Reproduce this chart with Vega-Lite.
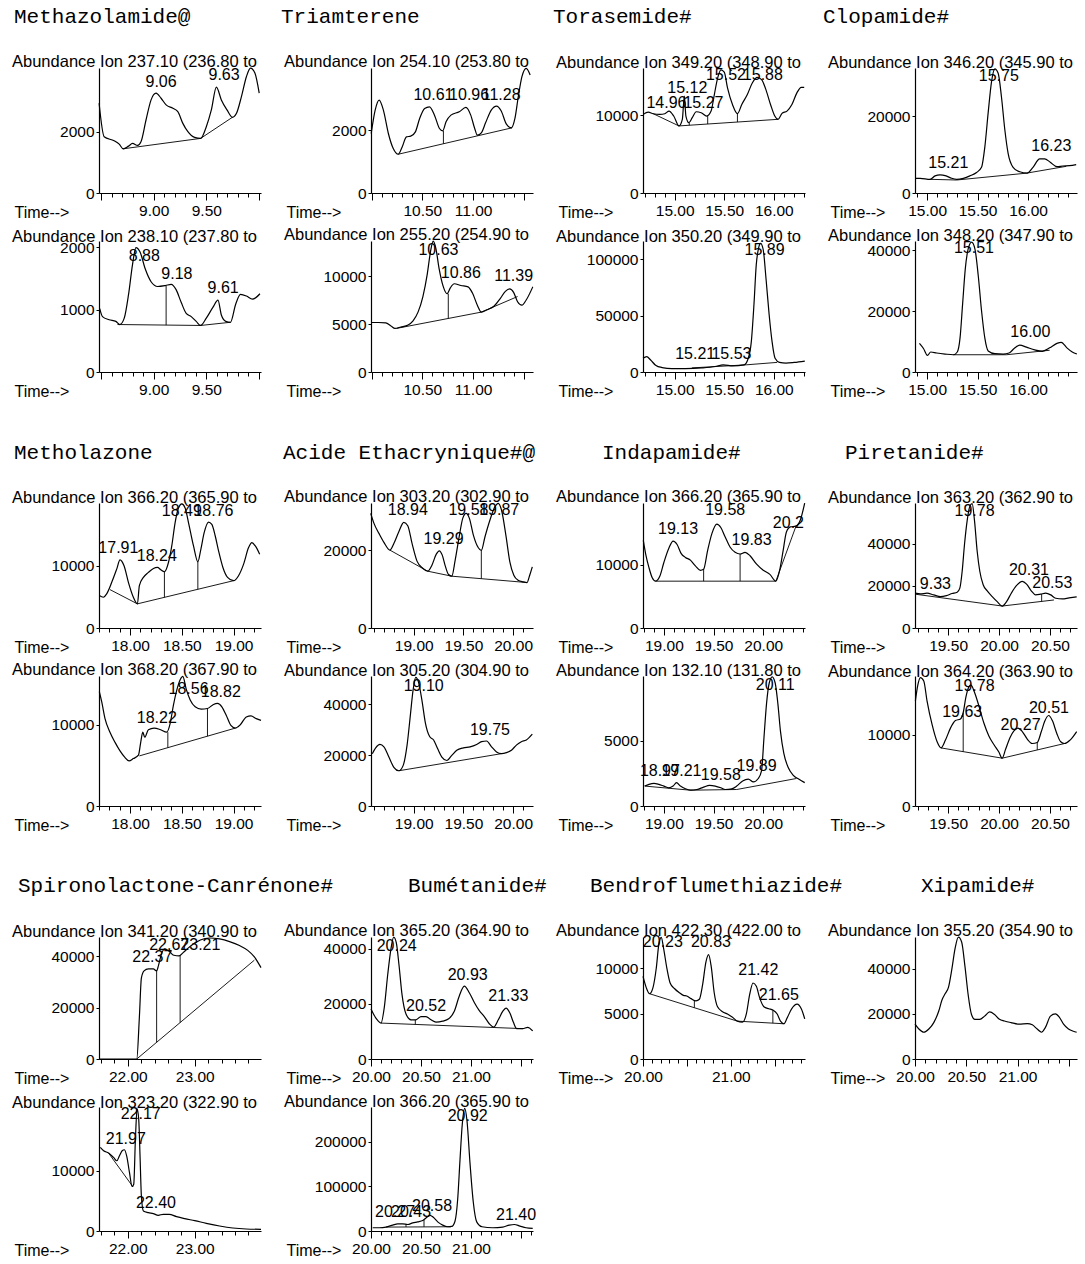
{
"$schema": "https://vega.github.io/schema/vega-lite/v6.json",
"padding": {"left": 12, "top": 0, "right": 4, "bottom": 4},
"background": "white",
"config": {
  "view": {"stroke": null},
  "font": "Liberation Sans",
  "line": {"color": "black", "strokeWidth": 1.2},
  "text": {"font": "Liberation Sans", "fontSize": 16, "baseline": "bottom", "align": "center", "color": "black"},
  "axis": {"grid": false, "domainColor": "black", "tickColor": "black", "labelColor": "black", "labelFont": "Liberation Sans", "labelFontSize": 15.5, "titleFont": "Liberation Sans", "titleFontSize": 16, "titleFontWeight": "normal", "titleColor": "black", "domainWidth": 1.2, "tickWidth": 1},
  "axisX": {"labelFlush": false, "labelOverlap": false, "labelPadding": 3, "titleX": -85, "titleY": 24, "titleAlign": "left", "titleBaseline": "alphabetic", "titleAnchor": "start"},
  "axisY": {"tickSize": 3, "labelPadding": 2, "labelOverlap": false},
  "title": {"anchor": "start", "frame": "group", "font": "Liberation Sans", "fontSize": 16.5, "fontWeight": "normal", "color": "black", "dx": -87, "offset": -5, "baseline": "alphabetic"}
},
"datasets": {
"p1t": [{"t":8.481,"a":2929},{"t":8.529,"a":1836},{"t":8.624,"a":1705},{"t":8.672,"a":1596},{"t":8.71,"a":1443},{"t":8.761,"a":1530},{"t":8.799,"a":1618},{"t":8.847,"a":1552},{"t":8.879,"a":1672},{"t":8.927,"a":2383},{"t":8.975,"a":3039},{"t":9.022,"a":3257},{"t":9.07,"a":3093},{"t":9.118,"a":2875},{"t":9.182,"a":2765},{"t":9.229,"a":2656},{"t":9.277,"a":2273},{"t":9.325,"a":2000},{"t":9.389,"a":1814},{"t":9.446,"a":1782},{"t":9.5,"a":2164},{"t":9.548,"a":2711},{"t":9.596,"a":3454},{"t":9.643,"a":3039},{"t":9.697,"a":2711},{"t":9.748,"a":2470},{"t":9.787,"a":2601},{"t":9.834,"a":3148},{"t":9.882,"a":3804},{"t":9.92,"a":4077},{"t":9.962,"a":3913},{"t":10.003,"a":3257}],
"p1b": [{"s":1,"t":8.71,"a":1443},{"s":1,"t":9.446,"a":1782},{"s":2,"t":9.446,"a":1782},{"s":2,"t":9.748,"a":2470}],
"p1l": [{"t":9.07,"a":3370,"lab":"9.06"},{"t":9.669,"a":3585,"lab":"9.63"}],
"p2t": [{"t":8.487,"a":1015},{"t":8.513,"a":888},{"t":8.576,"a":838},{"t":8.64,"a":812},{"t":8.678,"a":761},{"t":8.72,"a":863},{"t":8.761,"a":1244},{"t":8.799,"a":1726},{"t":8.831,"a":1995},{"t":8.869,"a":1929},{"t":8.92,"a":1650},{"t":8.975,"a":1447},{"t":9.038,"a":1371},{"t":9.111,"a":1386},{"t":9.166,"a":1406},{"t":9.213,"a":1320},{"t":9.261,"a":1117},{"t":9.309,"a":939},{"t":9.357,"a":888},{"t":9.404,"a":812},{"t":9.446,"a":746},{"t":9.5,"a":863},{"t":9.564,"a":1041},{"t":9.611,"a":1152},{"t":9.643,"a":914},{"t":9.685,"a":812},{"t":9.729,"a":797},{"t":9.78,"a":1091},{"t":9.825,"a":1244},{"t":9.882,"a":1218},{"t":9.939,"a":1167},{"t":10.01,"a":1254}],
"p2b": [{"s":1,"t":8.656,"a":761},{"s":1,"t":9.446,"a":746},{"s":2,"t":9.118,"a":1386},{"s":2,"t":9.118,"a":752},{"s":3,"t":9.446,"a":746},{"s":3,"t":9.729,"a":797}],
"p2l": [{"t":8.911,"a":1726,"lab":"8.88"},{"t":9.22,"a":1447,"lab":"9.18"},{"t":9.66,"a":1218,"lab":"9.61"}],
"p3t": [{"t":9.997,"a":1894},{"t":10.036,"a":2639},{"t":10.075,"a":2958},{"t":10.117,"a":2639},{"t":10.166,"a":1894},{"t":10.214,"a":1415},{"t":10.263,"a":1234},{"t":10.302,"a":1468},{"t":10.344,"a":1788},{"t":10.386,"a":1809},{"t":10.432,"a":1947},{"t":10.474,"a":2373},{"t":10.523,"a":2692},{"t":10.571,"a":2745},{"t":10.62,"a":2479},{"t":10.669,"a":2054},{"t":10.701,"a":1979},{"t":10.734,"a":2266},{"t":10.782,"a":2479},{"t":10.864,"a":2586},{"t":10.929,"a":2724},{"t":10.977,"a":2479},{"t":11.016,"a":2054},{"t":11.042,"a":1841},{"t":11.081,"a":1915},{"t":11.123,"a":2234},{"t":11.179,"a":2639},{"t":11.231,"a":2766},{"t":11.276,"a":2617},{"t":11.328,"a":2192},{"t":11.377,"a":2075},{"t":11.412,"a":2373},{"t":11.445,"a":3064},{"t":11.481,"a":3703},{"t":11.523,"a":3969},{"t":11.562,"a":3756}],
"p3b": [{"s":1,"t":10.263,"a":1234},{"s":1,"t":11.383,"a":2075},{"s":2,"t":10.708,"a":1979},{"s":2,"t":10.708,"a":1568}],
"p3l": [{"t":10.61,"a":2873,"lab":"10.61"},{"t":10.961,"a":2873,"lab":"10.96"},{"t":11.276,"a":2873,"lab":"11.28"}],
"p4t": [{"t":9.997,"a":5177},{"t":10.068,"a":5177},{"t":10.14,"a":5140},{"t":10.192,"a":4815},{"t":10.231,"a":4561},{"t":10.289,"a":4706},{"t":10.36,"a":4923},{"t":10.409,"a":5358},{"t":10.458,"a":6263},{"t":10.506,"a":7892},{"t":10.549,"a":10245},{"t":10.581,"a":12598},{"t":10.607,"a":13684},{"t":10.633,"a":12960},{"t":10.666,"a":10788},{"t":10.705,"a":8978},{"t":10.744,"a":8181},{"t":10.776,"a":8797},{"t":10.815,"a":9231},{"t":10.88,"a":9050},{"t":10.951,"a":8905},{"t":10.994,"a":8254},{"t":11.042,"a":6987},{"t":11.081,"a":6263},{"t":11.14,"a":6516},{"t":11.205,"a":6878},{"t":11.269,"a":7711},{"t":11.318,"a":8435},{"t":11.36,"a":8688},{"t":11.399,"a":8326},{"t":11.438,"a":7349},{"t":11.481,"a":6987},{"t":11.523,"a":7530},{"t":11.588,"a":8905}],
"p4b": [{"s":1,"t":10.247,"a":4561},{"s":1,"t":11.081,"a":6263},{"s":2,"t":11.081,"a":6263},{"s":2,"t":11.438,"a":7892},{"s":3,"t":10.756,"a":8181},{"s":3,"t":10.756,"a":5600}],
"p4l": [{"t":10.659,"a":11874,"lab":"10.63"},{"t":10.88,"a":9521,"lab":"10.86"},{"t":11.399,"a":9159,"lab":"11.39"}],
"p5t": [{"t":14.683,"a":10127},{"t":14.733,"a":10425},{"t":14.783,"a":10212},{"t":14.85,"a":10127},{"t":14.9,"a":10212},{"t":14.943,"a":10552},{"t":14.99,"a":9914},{"t":15.043,"a":8638},{"t":15.077,"a":9489},{"t":15.097,"a":12467},{"t":15.113,"a":9914},{"t":15.143,"a":9063},{"t":15.177,"a":9701},{"t":15.217,"a":10467},{"t":15.267,"a":10340},{"t":15.323,"a":9914},{"t":15.367,"a":10552},{"t":15.4,"a":12680},{"t":15.433,"a":14807},{"t":15.467,"a":15871},{"t":15.5,"a":15573},{"t":15.533,"a":13531},{"t":15.583,"a":11403},{"t":15.633,"a":10212},{"t":15.677,"a":11403},{"t":15.733,"a":12680},{"t":15.783,"a":14169},{"t":15.833,"a":14893},{"t":15.877,"a":14594},{"t":15.917,"a":13446},{"t":15.967,"a":11403},{"t":16.01,"a":9914},{"t":16.043,"a":9489},{"t":16.083,"a":10255},{"t":16.133,"a":10552},{"t":16.183,"a":11403},{"t":16.233,"a":12893},{"t":16.277,"a":13616},{"t":16.307,"a":13616}],
"p5b": [{"s":1,"t":14.783,"a":10212},{"s":1,"t":15.043,"a":8638},{"s":2,"t":15.043,"a":8638},{"s":2,"t":16.043,"a":9489},{"s":3,"t":15.147,"a":9063},{"s":3,"t":15.147,"a":8726},{"s":4,"t":15.333,"a":9914},{"s":4,"t":15.333,"a":8885},{"s":5,"t":15.633,"a":10212},{"s":5,"t":15.633,"a":9140}],
"p5l": [{"t":14.917,"a":10552,"lab":"14.96"},{"t":15.127,"a":12467,"lab":"15.12"},{"t":15.29,"a":10552,"lab":"15.27"},{"t":15.517,"a":14169,"lab":"15.52"},{"t":15.89,"a":14169,"lab":"15.88"}],
"p6t": [{"t":14.68,"a":12120},{"t":14.717,"a":13635},{"t":14.757,"a":10605},{"t":14.807,"a":6060},{"t":14.873,"a":3939},{"t":14.973,"a":3030},{"t":15.107,"a":3030},{"t":15.273,"a":3636},{"t":15.407,"a":4848},{"t":15.49,"a":6363},{"t":15.59,"a":5454},{"t":15.7,"a":6363},{"t":15.74,"a":11514},{"t":15.773,"a":26664},{"t":15.8,"a":59994},{"t":15.823,"a":94839},{"t":15.847,"a":109989},{"t":15.867,"a":113928},{"t":15.893,"a":108474},{"t":15.923,"a":81204},{"t":15.953,"a":50904},{"t":15.983,"a":26664},{"t":16.013,"a":12120},{"t":16.057,"a":8484},{"t":16.123,"a":7878},{"t":16.207,"a":8484},{"t":16.313,"a":9696}],
"p6b": [{"s":1,"t":15.173,"a":3636},{"s":1,"t":15.723,"a":6363},{"s":2,"t":15.723,"a":6363},{"s":2,"t":16.033,"a":8484}],
"p6l": [{"t":15.207,"a":9090,"lab":"15.21"},{"t":15.573,"a":9090,"lab":"15.53"},{"t":15.907,"a":100899,"lab":"15.89"}],
"p7t": [{"t":14.882,"a":3823},{"t":14.931,"a":3823},{"t":15.03,"a":3556},{"t":15.079,"a":4445},{"t":15.128,"a":4712},{"t":15.188,"a":4445},{"t":15.243,"a":3823},{"t":15.293,"a":3556},{"t":15.359,"a":3823},{"t":15.424,"a":4445},{"t":15.49,"a":5334},{"t":15.539,"a":6668},{"t":15.572,"a":12002},{"t":15.605,"a":20892},{"t":15.638,"a":28893},{"t":15.671,"a":32271},{"t":15.704,"a":31115},{"t":15.737,"a":24892},{"t":15.77,"a":16447},{"t":15.803,"a":10224},{"t":15.852,"a":6668},{"t":15.918,"a":5512},{"t":15.99,"a":5156},{"t":16.049,"a":6668},{"t":16.115,"a":8890},{"t":16.164,"a":8890},{"t":16.22,"a":8001},{"t":16.286,"a":6846},{"t":16.345,"a":7023},{"t":16.411,"a":7112},{"t":16.477,"a":7379}],
"p7b": [{"s":1,"t":15.03,"a":3556},{"s":1,"t":15.293,"a":3378},{"s":2,"t":15.293,"a":3378},{"s":2,"t":15.984,"a":5156},{"s":3,"t":15.984,"a":5156},{"s":3,"t":16.378,"a":6934}],
"p7l": [{"t":15.21,"a":5778,"lab":"15.21"},{"t":15.71,"a":28448,"lab":"15.75"},{"t":16.23,"a":10224,"lab":"16.23"}],
"p8t": [{"t":14.924,"a":9404},{"t":14.964,"a":7704},{"t":15.003,"a":5438},{"t":15.036,"a":6571},{"t":15.095,"a":6232},{"t":15.178,"a":5892},{"t":15.26,"a":5665},{"t":15.299,"a":6571},{"t":15.326,"a":11103},{"t":15.352,"a":22433},{"t":15.378,"a":33763},{"t":15.408,"a":40561},{"t":15.441,"a":42601},{"t":15.474,"a":40335},{"t":15.507,"a":31497},{"t":15.539,"a":20167},{"t":15.572,"a":11103},{"t":15.605,"a":6911},{"t":15.671,"a":6005},{"t":15.753,"a":5892},{"t":15.812,"a":6232},{"t":15.862,"a":7704},{"t":15.918,"a":8837},{"t":15.984,"a":8158},{"t":16.066,"a":7251},{"t":16.141,"a":6798},{"t":16.214,"a":7931},{"t":16.286,"a":9404},{"t":16.329,"a":9744},{"t":16.385,"a":7931},{"t":16.438,"a":6571},{"t":16.484,"a":5892}],
"p8b": [{"s":1,"t":15.26,"a":5665},{"s":1,"t":15.786,"a":5665},{"s":2,"t":15.786,"a":5665},{"s":2,"t":16.214,"a":7138}],
"p8l": [{"t":15.464,"a":38069,"lab":"15.51"},{"t":16.023,"a":10537,"lab":"16.00"}],
"p9t": [{"t":17.703,"a":5214},{"t":17.742,"a":4948},{"t":17.774,"a":5480},{"t":17.823,"a":7342},{"t":17.871,"a":9470},{"t":17.903,"a":10959},{"t":17.942,"a":10002},{"t":17.984,"a":7342},{"t":18.032,"a":4948},{"t":18.071,"a":3884},{"t":18.09,"a":6810},{"t":18.129,"a":8140},{"t":18.177,"a":8938},{"t":18.226,"a":9576},{"t":18.265,"a":9736},{"t":18.297,"a":9363},{"t":18.332,"a":9044},{"t":18.371,"a":10534},{"t":18.403,"a":13194},{"t":18.435,"a":16918},{"t":18.468,"a":19312},{"t":18.5,"a":19950},{"t":18.532,"a":19312},{"t":18.565,"a":16918},{"t":18.613,"a":13194},{"t":18.655,"a":10640},{"t":18.684,"a":12662},{"t":18.716,"a":15322},{"t":18.758,"a":17024},{"t":18.79,"a":16652},{"t":18.823,"a":14790},{"t":18.855,"a":12396},{"t":18.897,"a":9736},{"t":18.942,"a":8140},{"t":19.0,"a":7608},{"t":19.048,"a":8406},{"t":19.097,"a":10268},{"t":19.145,"a":12928},{"t":19.177,"a":13726},{"t":19.21,"a":13194},{"t":19.252,"a":11864}],
"p9b": [{"s":1,"t":17.806,"a":6171},{"s":1,"t":18.071,"a":3884},{"s":2,"t":18.071,"a":3884},{"s":2,"t":19.0,"a":7608},{"s":3,"t":18.332,"a":9044},{"s":3,"t":18.332,"a":4930},{"s":4,"t":18.655,"a":10640},{"s":4,"t":18.655,"a":6225}],
"p9l": [{"t":17.887,"a":11598,"lab":"17.91"},{"t":18.258,"a":10268,"lab":"18.24"},{"t":18.5,"a":17450,"lab":"18.49"},{"t":18.806,"a":17450,"lab":"18.76"}],
"p10t": [{"t":17.703,"a":14084},{"t":17.726,"a":12834},{"t":17.758,"a":10751},{"t":17.806,"a":9084},{"t":17.855,"a":7834},{"t":17.903,"a":6792},{"t":17.952,"a":5959},{"t":17.99,"a":5542},{"t":18.032,"a":5834},{"t":18.081,"a":6251},{"t":18.103,"a":7834},{"t":18.123,"a":9084},{"t":18.142,"a":8459},{"t":18.177,"a":9376},{"t":18.232,"a":9584},{"t":18.29,"a":9418},{"t":18.355,"a":9084},{"t":18.387,"a":10126},{"t":18.419,"a":12418},{"t":18.452,"a":14293},{"t":18.484,"a":15543},{"t":18.51,"a":15960},{"t":18.542,"a":14418},{"t":18.581,"a":13043},{"t":18.629,"a":12209},{"t":18.687,"a":11918},{"t":18.748,"a":12001},{"t":18.806,"a":12501},{"t":18.845,"a":12626},{"t":18.887,"a":12209},{"t":18.929,"a":11168},{"t":18.974,"a":9918},{"t":19.016,"a":9584},{"t":19.065,"a":10001},{"t":19.123,"a":10959},{"t":19.168,"a":11084},{"t":19.219,"a":10751},{"t":19.265,"a":10543}],
"p10b": [{"s":1,"t":18.09,"a":6167},{"s":1,"t":19.016,"a":9584},{"s":2,"t":18.365,"a":9084},{"s":2,"t":18.365,"a":7182},{"s":3,"t":18.748,"a":12001},{"s":3,"t":18.748,"a":8595}],
"p10l": [{"t":18.258,"a":9834,"lab":"18.22"},{"t":18.565,"a":13460,"lab":"18.56"},{"t":18.877,"a":13043,"lab":"18.82"}],
"p11t": [{"t":18.567,"a":29443},{"t":18.6,"a":26868},{"t":18.65,"a":24293},{"t":18.7,"a":21975},{"t":18.76,"a":20001},{"t":18.8,"a":21718},{"t":18.85,"a":24722},{"t":18.9,"a":27125},{"t":18.94,"a":26267},{"t":18.983,"a":21718},{"t":19.033,"a":17168},{"t":19.093,"a":15280},{"t":19.14,"a":14593},{"t":19.183,"a":16138},{"t":19.227,"a":18971},{"t":19.257,"a":19829},{"t":19.287,"a":18713},{"t":19.317,"a":15966},{"t":19.35,"a":13734},{"t":19.383,"a":13305},{"t":19.417,"a":17426},{"t":19.46,"a":23864},{"t":19.493,"a":28156},{"t":19.527,"a":29443},{"t":19.56,"a":28156},{"t":19.6,"a":23864},{"t":19.65,"a":20602},{"t":19.68,"a":19915},{"t":19.717,"a":23434},{"t":19.767,"a":27726},{"t":19.817,"a":31160},{"t":19.85,"a":32018},{"t":19.883,"a":30302},{"t":19.927,"a":23864},{"t":19.967,"a":16996},{"t":20.007,"a":13563},{"t":20.05,"a":12275},{"t":20.1,"a":11846},{"t":20.14,"a":11674},{"t":20.167,"a":13563},{"t":20.193,"a":15709}],
"p11b": [{"s":1,"t":18.76,"a":20001},{"s":1,"t":19.14,"a":14593},{"s":2,"t":19.14,"a":14593},{"s":2,"t":19.383,"a":13305},{"s":3,"t":19.383,"a":13305},{"s":3,"t":20.14,"a":11674},{"s":4,"t":19.68,"a":19915},{"s":4,"t":19.68,"a":12665}],
"p11l": [{"t":18.94,"a":28155,"lab":"18.94"},{"t":19.3,"a":20859,"lab":"19.29"},{"t":19.55,"a":28155,"lab":"19.58"},{"t":19.86,"a":28155,"lab":"19.87"}],
"p12t": [{"t":18.583,"a":20533},{"t":18.617,"a":22814},{"t":18.66,"a":24156},{"t":18.7,"a":23217},{"t":18.75,"a":19191},{"t":18.8,"a":15165},{"t":18.85,"a":13823},{"t":18.893,"a":15836},{"t":18.933,"a":23888},{"t":18.967,"a":35966},{"t":18.993,"a":45360},{"t":19.02,"a":50459},{"t":19.05,"a":48312},{"t":19.083,"a":41334},{"t":19.117,"a":32611},{"t":19.16,"a":27243},{"t":19.2,"a":25901},{"t":19.24,"a":22546},{"t":19.283,"a":19191},{"t":19.333,"a":17849},{"t":19.383,"a":19862},{"t":19.433,"a":21875},{"t":19.5,"a":22814},{"t":19.567,"a":23217},{"t":19.633,"a":24156},{"t":19.683,"a":25230},{"t":19.733,"a":25498},{"t":19.783,"a":23217},{"t":19.833,"a":21204},{"t":19.883,"a":20533},{"t":19.933,"a":20935},{"t":19.983,"a":21875},{"t":20.033,"a":23888},{"t":20.083,"a":25230},{"t":20.133,"a":25901},{"t":20.193,"a":28183}],
"p12b": [{"s":1,"t":18.85,"a":13823},{"s":1,"t":19.883,"a":20533}],
"p12l": [{"t":19.1,"a":44018,"lab":"19.10"},{"t":19.767,"a":26840,"lab":"19.75"}],
"p13t": [{"t":18.793,"a":13870},{"t":18.817,"a":11720},{"t":18.85,"a":9569},{"t":18.883,"a":7956},{"t":18.917,"a":7419},{"t":18.96,"a":8225},{"t":19.0,"a":10376},{"t":19.05,"a":12634},{"t":19.093,"a":13763},{"t":19.133,"a":13225},{"t":19.173,"a":11827},{"t":19.217,"a":11182},{"t":19.267,"a":10752},{"t":19.317,"a":9838},{"t":19.367,"a":9139},{"t":19.4,"a":9300},{"t":19.44,"a":12257},{"t":19.483,"a":14945},{"t":19.533,"a":16451},{"t":19.573,"a":15913},{"t":19.617,"a":14408},{"t":19.667,"a":12795},{"t":19.717,"a":11988},{"t":19.767,"a":11720},{"t":19.817,"a":11988},{"t":19.867,"a":11451},{"t":19.933,"a":10107},{"t":20.0,"a":9139},{"t":20.067,"a":8494},{"t":20.127,"a":7419},{"t":20.167,"a":9300},{"t":20.2,"a":12257},{"t":20.233,"a":15214},{"t":20.273,"a":16020},{"t":20.327,"a":16128},{"t":20.373,"a":17096},{"t":20.417,"a":19785}],
"p13b": [{"s":1,"t":18.917,"a":7419},{"s":1,"t":20.127,"a":7419},{"s":2,"t":19.4,"a":9300},{"s":2,"t":19.4,"a":7419},{"s":3,"t":19.767,"a":11720},{"s":3,"t":19.767,"a":7419},{"s":4,"t":20.127,"a":7419},{"s":4,"t":20.333,"a":16289}],
"p13l": [{"t":19.143,"a":14408,"lab":"19.13"},{"t":19.617,"a":17364,"lab":"19.58"},{"t":19.883,"a":12634,"lab":"19.83"},{"t":20.253,"a":15322,"lab":"20.2"}],
"p14t": [{"t":18.807,"a":1525},{"t":18.85,"a":1657},{"t":18.9,"a":1736},{"t":18.95,"a":1657},{"t":19.0,"a":1525},{"t":19.05,"a":1394},{"t":19.093,"a":1525},{"t":19.127,"a":1788},{"t":19.167,"a":1525},{"t":19.217,"a":1315},{"t":19.267,"a":1210},{"t":19.333,"a":1262},{"t":19.4,"a":1447},{"t":19.46,"a":1578},{"t":19.517,"a":1525},{"t":19.573,"a":1394},{"t":19.617,"a":1262},{"t":19.683,"a":1315},{"t":19.733,"a":1525},{"t":19.793,"a":1920},{"t":19.85,"a":2051},{"t":19.9,"a":1841},{"t":19.95,"a":2104},{"t":19.983,"a":2709},{"t":20.007,"a":5207},{"t":20.033,"a":7837},{"t":20.06,"a":9415},{"t":20.09,"a":9889},{"t":20.12,"a":9415},{"t":20.147,"a":7837},{"t":20.173,"a":5733},{"t":20.207,"a":4024},{"t":20.25,"a":2972},{"t":20.3,"a":2367},{"t":20.36,"a":2051},{"t":20.417,"a":1788}],
"p14b": [{"s":1,"t":18.807,"a":1525},{"s":1,"t":19.267,"a":1210},{"s":2,"t":19.267,"a":1210},{"s":2,"t":19.733,"a":1262},{"s":3,"t":19.733,"a":1262},{"s":3,"t":20.333,"a":2104}],
"p14l": [{"t":18.96,"a":2104,"lab":"18.97"},{"t":19.177,"a":2104,"lab":"19.21"},{"t":19.573,"a":1788,"lab":"19.58"},{"t":19.933,"a":2446,"lab":"19.89"},{"t":20.12,"a":8626,"lab":"20.11"}],
"p15t": [{"t":19.179,"a":16480},{"t":19.228,"a":16160},{"t":19.293,"a":16480},{"t":19.359,"a":15680},{"t":19.425,"a":14880},{"t":19.484,"a":15360},{"t":19.539,"a":16320},{"t":19.589,"a":16960},{"t":19.615,"a":18880},{"t":19.638,"a":26880},{"t":19.661,"a":39680},{"t":19.687,"a":50880},{"t":19.713,"a":57600},{"t":19.736,"a":58880},{"t":19.759,"a":50880},{"t":19.785,"a":36480},{"t":19.811,"a":26880},{"t":19.844,"a":20480},{"t":19.884,"a":17600},{"t":19.933,"a":14880},{"t":19.982,"a":12480},{"t":20.031,"a":10400},{"t":20.074,"a":12480},{"t":20.12,"a":16480},{"t":20.172,"a":20160},{"t":20.228,"a":22080},{"t":20.27,"a":20800},{"t":20.316,"a":17600},{"t":20.359,"a":15680},{"t":20.408,"a":16000},{"t":20.457,"a":16480},{"t":20.507,"a":15680},{"t":20.556,"a":14080},{"t":20.621,"a":13760},{"t":20.687,"a":14240},{"t":20.762,"a":14720}],
"p15b": [{"s":1,"t":19.179,"a":16000},{"s":1,"t":20.031,"a":10400},{"s":2,"t":20.031,"a":10400},{"s":2,"t":20.539,"a":13280},{"s":3,"t":20.418,"a":16100},{"s":3,"t":20.418,"a":12594}],
"p15l": [{"t":19.375,"a":17280,"lab":"9.33"},{"t":19.759,"a":51680,"lab":"19.78"},{"t":20.293,"a":23680,"lab":"20.31"},{"t":20.523,"a":17600,"lab":"20.53"}],
"p16t": [{"t":19.179,"a":14809},{"t":19.202,"a":16972},{"t":19.228,"a":18078},{"t":19.261,"a":17597},{"t":19.293,"a":14809},{"t":19.343,"a":11443},{"t":19.392,"a":9039},{"t":19.431,"a":8174},{"t":19.474,"a":9279},{"t":19.523,"a":10962},{"t":19.572,"a":12020},{"t":19.621,"a":12261},{"t":19.648,"a":13126},{"t":19.674,"a":15290},{"t":19.703,"a":16732},{"t":19.726,"a":16972},{"t":19.759,"a":16011},{"t":19.802,"a":14087},{"t":19.851,"a":11683},{"t":19.9,"a":9856},{"t":19.949,"a":8654},{"t":19.998,"a":7597},{"t":20.031,"a":6731},{"t":20.064,"a":7981},{"t":20.107,"a":9616},{"t":20.146,"a":10578},{"t":20.185,"a":10962},{"t":20.228,"a":10482},{"t":20.277,"a":9424},{"t":20.326,"a":8799},{"t":20.375,"a":8943},{"t":20.415,"a":10482},{"t":20.448,"a":11924},{"t":20.487,"a":12741},{"t":20.523,"a":12020},{"t":20.566,"a":10241},{"t":20.605,"a":9039},{"t":20.644,"a":8799},{"t":20.697,"a":9279},{"t":20.762,"a":10482}],
"p16b": [{"s":1,"t":19.431,"a":8174},{"s":1,"t":20.031,"a":6731},{"s":2,"t":20.031,"a":6731},{"s":2,"t":20.644,"a":8799},{"s":3,"t":19.648,"a":13126},{"s":3,"t":19.648,"a":7652},{"s":4,"t":20.375,"a":8943},{"s":4,"t":20.375,"a":7892}],
"p16l": [{"t":19.638,"a":12164,"lab":"19.63"},{"t":19.759,"a":15770,"lab":"19.78"},{"t":20.211,"a":10241,"lab":"20.27"},{"t":20.49,"a":12645,"lab":"20.51"}],
"p17t": [{"t":21.574,"a":0},{"t":22.134,"a":0},{"t":22.173,"a":16256},{"t":22.203,"a":31496},{"t":22.243,"a":34290},{"t":22.307,"a":35052},{"t":22.381,"a":35052},{"t":22.431,"a":34290},{"t":22.46,"a":36576},{"t":22.505,"a":41021},{"t":22.554,"a":42926},{"t":22.619,"a":41910},{"t":22.688,"a":40386},{"t":22.767,"a":40132},{"t":22.827,"a":41402},{"t":22.901,"a":43180},{"t":22.985,"a":44831},{"t":23.084,"a":46355},{"t":23.223,"a":47117},{"t":23.371,"a":46736},{"t":23.52,"a":45720},{"t":23.668,"a":44196},{"t":23.792,"a":42291},{"t":23.891,"a":39751},{"t":23.99,"a":35560}],
"p17b": [{"s":1,"t":22.134,"a":0},{"s":1,"t":23.891,"a":38481},{"s":2,"t":22.431,"a":34290},{"s":2,"t":22.431,"a":6505},{"s":3,"t":22.782,"a":40132},{"s":3,"t":22.782,"a":14192}],
"p17l": [{"t":22.366,"a":36576,"lab":"22.37"},{"t":22.619,"a":41402,"lab":"22.67"},{"t":23.084,"a":41402,"lab":"23.21"}],
"p18t": [{"t":21.589,"a":13890},{"t":21.639,"a":13334},{"t":21.713,"a":12945},{"t":21.787,"a":12223},{"t":21.837,"a":11668},{"t":21.876,"a":12501},{"t":21.916,"a":13334},{"t":21.95,"a":13501},{"t":21.985,"a":12390},{"t":22.025,"a":9723},{"t":22.064,"a":7389},{"t":22.089,"a":7778},{"t":22.114,"a":15279},{"t":22.139,"a":20279},{"t":22.163,"a":18613},{"t":22.183,"a":12501},{"t":22.203,"a":5834},{"t":22.233,"a":3334},{"t":22.307,"a":3056},{"t":22.381,"a":2889},{"t":22.455,"a":2611},{"t":22.53,"a":2778},{"t":22.619,"a":2778},{"t":22.728,"a":2389},{"t":22.851,"a":2056},{"t":23.0,"a":1722},{"t":23.173,"a":1278},{"t":23.371,"a":833},{"t":23.569,"a":500},{"t":23.767,"a":333},{"t":23.99,"a":278}],
"p18b": [{"s":1,"t":21.713,"a":12945},{"s":1,"t":22.074,"a":7389}],
"p18l": [{"t":21.97,"a":13890,"lab":"21.97"},{"t":22.193,"a":18057,"lab":"22.17"},{"t":22.42,"a":3334,"lab":"22.40"}],
"p19t": [{"t":20.0,"a":18100},{"t":20.033,"a":15734},{"t":20.067,"a":13959},{"t":20.1,"a":13013},{"t":20.133,"a":18691},{"t":20.167,"a":30521},{"t":20.2,"a":39985},{"t":20.227,"a":44126},{"t":20.253,"a":42115},{"t":20.28,"a":34070},{"t":20.31,"a":23423},{"t":20.35,"a":16325},{"t":20.4,"a":14196},{"t":20.45,"a":14196},{"t":20.5,"a":15379},{"t":20.55,"a":15379},{"t":20.6,"a":14196},{"t":20.65,"a":13368},{"t":20.717,"a":13723},{"t":20.777,"a":14551},{"t":20.833,"a":17272},{"t":20.883,"a":22832},{"t":20.933,"a":26381},{"t":20.983,"a":24015},{"t":21.033,"a":20466},{"t":21.083,"a":17508},{"t":21.133,"a":15379},{"t":21.183,"a":12776},{"t":21.227,"a":11593},{"t":21.273,"a":14196},{"t":21.317,"a":17272},{"t":21.35,"a":18455},{"t":21.39,"a":16562},{"t":21.423,"a":13368},{"t":21.457,"a":11002},{"t":21.517,"a":11002},{"t":21.567,"a":11475},{"t":21.617,"a":10174}],
"p19b": [{"s":1,"t":20.1,"a":13013},{"s":1,"t":21.517,"a":11002},{"s":2,"t":20.443,"a":14196},{"s":2,"t":20.443,"a":12526}],
"p19l": [{"t":20.257,"a":38211,"lab":"20.24"},{"t":20.55,"a":16325,"lab":"20.52"},{"t":20.967,"a":27564,"lab":"20.93"},{"t":21.373,"a":19874,"lab":"21.33"}],
"p20t": [{"t":20.017,"a":7326},{"t":20.083,"a":7326},{"t":20.15,"a":8791},{"t":20.217,"a":13187},{"t":20.267,"a":16117},{"t":20.317,"a":16117},{"t":20.367,"a":14652},{"t":20.417,"a":18315},{"t":20.467,"a":20513},{"t":20.517,"a":23443},{"t":20.55,"a":29304},{"t":20.59,"a":35165},{"t":20.623,"a":30769},{"t":20.667,"a":20513},{"t":20.717,"a":13187},{"t":20.767,"a":9524},{"t":20.807,"a":10256},{"t":20.84,"a":21978},{"t":20.867,"a":71795},{"t":20.89,"a":159707},{"t":20.913,"a":240293},{"t":20.937,"a":275458},{"t":20.96,"a":247619},{"t":20.99,"a":152381},{"t":21.023,"a":64469},{"t":21.057,"a":20513},{"t":21.11,"a":9524},{"t":21.217,"a":7326},{"t":21.317,"a":8791},{"t":21.383,"a":13187},{"t":21.433,"a":14652},{"t":21.49,"a":10989},{"t":21.55,"a":7326},{"t":21.617,"a":5861}],
"p20b": [{"s":1,"t":20.15,"a":8791},{"s":1,"t":20.8,"a":9524},{"s":2,"t":20.35,"a":15000},{"s":2,"t":20.35,"a":9080},{"s":3,"t":20.53,"a":25000},{"s":3,"t":20.53,"a":9300}],
"p20l": [{"t":20.24,"a":24000,"lab":"20.27"},{"t":20.4,"a":24000,"lab":"20.43"},{"t":20.61,"a":38800,"lab":"20.58"},{"t":20.967,"a":240293,"lab":"20.92"},{"t":21.45,"a":16850,"lab":"21.40"}],
"p21t": [{"t":20.0,"a":9100},{"t":20.038,"a":7841},{"t":20.075,"a":7194},{"t":20.113,"a":7841},{"t":20.151,"a":10000},{"t":20.181,"a":12697},{"t":20.208,"a":13417},{"t":20.234,"a":12230},{"t":20.272,"a":10000},{"t":20.309,"a":8381},{"t":20.358,"a":7770},{"t":20.415,"a":7302},{"t":20.46,"a":7014},{"t":20.498,"a":6942},{"t":20.547,"a":6654},{"t":20.604,"a":6403},{"t":20.642,"a":6583},{"t":20.679,"a":8201},{"t":20.717,"a":10719},{"t":20.747,"a":11510},{"t":20.777,"a":10180},{"t":20.811,"a":7302},{"t":20.849,"a":5755},{"t":20.906,"a":5216},{"t":20.962,"a":4964},{"t":21.019,"a":4604},{"t":21.075,"a":4173},{"t":21.132,"a":4065},{"t":21.177,"a":4964},{"t":21.215,"a":7122},{"t":21.253,"a":8381},{"t":21.291,"a":8021},{"t":21.328,"a":6762},{"t":21.377,"a":5755},{"t":21.434,"a":5539},{"t":21.479,"a":5396},{"t":21.528,"a":4964},{"t":21.566,"a":4173},{"t":21.604,"a":3885},{"t":21.642,"a":4532},{"t":21.691,"a":5503},{"t":21.755,"a":6043},{"t":21.804,"a":5503},{"t":21.842,"a":4424}],
"p21b": [{"s":1,"t":20.075,"a":7194},{"s":1,"t":21.075,"a":4173},{"s":2,"t":21.075,"a":4173},{"s":2,"t":21.604,"a":3885},{"s":3,"t":20.585,"a":6450},{"s":3,"t":20.585,"a":5653},{"s":4,"t":21.479,"a":5396},{"s":4,"t":21.479,"a":3953}],
"p21l": [{"t":20.226,"a":11978,"lab":"20.23"},{"t":20.774,"a":11978,"lab":"20.83"},{"t":21.313,"a":8921,"lab":"21.42"},{"t":21.547,"a":6223,"lab":"21.65"}],
"p22t": [{"t":20.0,"a":15433},{"t":20.038,"a":13290},{"t":20.087,"a":11861},{"t":20.135,"a":13290},{"t":20.183,"a":16148},{"t":20.231,"a":21149},{"t":20.263,"a":26151},{"t":20.295,"a":29009},{"t":20.327,"a":31867},{"t":20.359,"a":39726},{"t":20.391,"a":49015},{"t":20.423,"a":54016},{"t":20.455,"a":51873},{"t":20.487,"a":41155},{"t":20.519,"a":28294},{"t":20.551,"a":19720},{"t":20.583,"a":17577},{"t":20.631,"a":17577},{"t":20.679,"a":19006},{"t":20.728,"a":20863},{"t":20.776,"a":19720},{"t":20.824,"a":17577},{"t":20.872,"a":16862},{"t":20.936,"a":16148},{"t":21.016,"a":15433},{"t":21.096,"a":15719},{"t":21.144,"a":15147},{"t":21.192,"a":13290},{"t":21.234,"a":11861},{"t":21.272,"a":14004},{"t":21.321,"a":19006},{"t":21.369,"a":20006},{"t":21.407,"a":18577},{"t":21.449,"a":15433},{"t":21.497,"a":13290},{"t":21.545,"a":12289},{"t":21.577,"a":11861}]
},
"bounds": "flush",
"columns": 4,
"spacing": {"row": 48, "column": 110},
"concat": [
 {"width": 162, "height": 20, "data": {"values": [{}]}, "mark": {"type": "text", "text": "", "fontSize": 1, "baseline": "top"}, "encoding": {}, "title": {"text": "Methazolamide@", "orient": "bottom", "font": "Liberation Mono", "fontSize": 21, "dx": -85, "offset": -14}},
 {"width": 162, "height": 20, "data": {"values": [{}]}, "mark": {"type": "text", "text": "", "fontSize": 1, "baseline": "top"}, "encoding": {}, "title": {"text": "Triamterene", "orient": "bottom", "font": "Liberation Mono", "fontSize": 21, "dx": -90, "offset": -14}},
 {"width": 162, "height": 20, "data": {"values": [{}]}, "mark": {"type": "text", "text": "", "fontSize": 1, "baseline": "top"}, "encoding": {}, "title": {"text": "Torasemide#", "orient": "bottom", "font": "Liberation Mono", "fontSize": 21, "dx": -90, "offset": -14}},
 {"width": 162, "height": 20, "data": {"values": [{}]}, "mark": {"type": "text", "text": "", "fontSize": 1, "baseline": "top"}, "encoding": {}, "title": {"text": "Clopamide#", "orient": "bottom", "font": "Liberation Mono", "fontSize": 21, "dx": -92, "offset": -14}},

 {"width": 162, "height": 125, "title": {"text": "Abundance Ion 237.10 (236.80 to"},
  "encoding": {"x": {"field": "t", "type": "quantitative", "scale": {"domain": [8.48, 10.02], "nice": false, "zero": false}, "axis": {"title": "Time-->", "values": [8.5,8.6,8.7,8.8,8.9,9,9.1,9.2,9.3,9.4,9.5,9.6,9.7,9.8,9.9,10], "labelExpr": "indexof([9,9.5],datum.value)>=0?format(datum.value,'.2f'):''", "tickSize": {"condition": {"test": "abs(datum.value*2-round(datum.value*2))<0.001", "value": 7}, "value": 4}}},
               "y": {"field": "a", "type": "quantitative", "scale": {"domain": [0, 4080], "nice": false}, "axis": {"values": [0, 2000], "title": null, "format": "d"}}},
  "layer": [{"data": {"name": "p1t"}, "mark": {"type": "line", "interpolate": "monotone"}},
            {"data": {"name": "p1b"}, "mark": {"type": "line", "strokeWidth": 0.9}, "encoding": {"detail": {"field": "s", "type": "nominal"}}},
            {"data": {"name": "p1l"}, "mark": {"type": "text"}, "encoding": {"text": {"field": "lab", "type": "nominal"}}}]},
 {"width": 162, "height": 125, "title": {"text": "Abundance Ion 254.10 (253.80 to"},
  "encoding": {"x": {"field": "t", "type": "quantitative", "scale": {"domain": [9.995, 11.59], "nice": false, "zero": false}, "axis": {"title": "Time-->", "values": [10,10.1,10.2,10.3,10.4,10.5,10.6,10.7,10.8,10.9,11,11.1,11.2,11.3,11.4,11.5], "labelExpr": "indexof([10.5,11],datum.value)>=0?format(datum.value,'.2f'):''", "tickSize": {"condition": {"test": "abs(datum.value*2-round(datum.value*2))<0.001", "value": 7}, "value": 4}}},
               "y": {"field": "a", "type": "quantitative", "scale": {"domain": [0, 3980], "nice": false}, "axis": {"values": [0, 2000], "title": null, "format": "d"}}},
  "layer": [{"data": {"name": "p3t"}, "mark": {"type": "line", "interpolate": "monotone"}},
            {"data": {"name": "p3b"}, "mark": {"type": "line", "strokeWidth": 0.9}, "encoding": {"detail": {"field": "s", "type": "nominal"}}},
            {"data": {"name": "p3l"}, "mark": {"type": "text"}, "encoding": {"text": {"field": "lab", "type": "nominal"}}}]},
 {"width": 162, "height": 125, "title": {"text": "Abundance Ion 349.20 (348.90 to"},
  "encoding": {"x": {"field": "t", "type": "quantitative", "scale": {"domain": [14.68, 16.315], "nice": false, "zero": false}, "axis": {"title": "Time-->", "values": [14.7,14.8,14.9,15,15.1,15.2,15.3,15.4,15.5,15.6,15.7,15.8,15.9,16,16.1,16.2,16.3], "labelExpr": "indexof([15,15.5,16],datum.value)>=0?format(datum.value,'.2f'):''", "tickSize": {"condition": {"test": "abs(datum.value*2-round(datum.value*2))<0.001", "value": 7}, "value": 4}}},
               "y": {"field": "a", "type": "quantitative", "scale": {"domain": [0, 16100], "nice": false}, "axis": {"values": [0, 10000], "title": null, "format": "d"}}},
  "layer": [{"data": {"name": "p5t"}, "mark": {"type": "line", "interpolate": "monotone"}},
            {"data": {"name": "p5b"}, "mark": {"type": "line", "strokeWidth": 0.9}, "encoding": {"detail": {"field": "s", "type": "nominal"}}},
            {"data": {"name": "p5l"}, "mark": {"type": "text"}, "encoding": {"text": {"field": "lab", "type": "nominal"}}}]},
 {"width": 162, "height": 125, "title": {"text": "Abundance Ion 346.20 (345.90 to"},
  "encoding": {"x": {"field": "t", "type": "quantitative", "scale": {"domain": [14.88, 16.485], "nice": false, "zero": false}, "axis": {"title": "Time-->", "values": [14.9,15,15.1,15.2,15.3,15.4,15.5,15.6,15.7,15.8,15.9,16,16.1,16.2,16.3,16.4], "labelExpr": "indexof([15,15.5,16],datum.value)>=0?format(datum.value,'.2f'):''", "tickSize": {"condition": {"test": "abs(datum.value*2-round(datum.value*2))<0.001", "value": 7}, "value": 4}}},
               "y": {"field": "a", "type": "quantitative", "scale": {"domain": [0, 32500], "nice": false}, "axis": {"values": [0, 20000], "title": null, "format": "d"}}},
  "layer": [{"data": {"name": "p7t"}, "mark": {"type": "line", "interpolate": "monotone"}},
            {"data": {"name": "p7b"}, "mark": {"type": "line", "strokeWidth": 0.9}, "encoding": {"detail": {"field": "s", "type": "nominal"}}},
            {"data": {"name": "p7l"}, "mark": {"type": "text"}, "encoding": {"text": {"field": "lab", "type": "nominal"}}}]},

 {"width": 162, "height": 131, "title": {"text": "Abundance Ion 238.10 (237.80 to"},
  "encoding": {"x": {"field": "t", "type": "quantitative", "scale": {"domain": [8.48, 10.02], "nice": false, "zero": false}, "axis": {"title": "Time-->", "values": [8.5,8.6,8.7,8.8,8.9,9,9.1,9.2,9.3,9.4,9.5,9.6,9.7,9.8,9.9,10], "labelExpr": "indexof([9,9.5],datum.value)>=0?format(datum.value,'.2f'):''", "tickSize": {"condition": {"test": "abs(datum.value*2-round(datum.value*2))<0.001", "value": 7}, "value": 4}}},
               "y": {"field": "a", "type": "quantitative", "scale": {"domain": [0, 2100], "nice": false}, "axis": {"values": [0, 1000, 2000], "title": null, "format": "d"}}},
  "layer": [{"data": {"name": "p2t"}, "mark": {"type": "line", "interpolate": "monotone"}},
            {"data": {"name": "p2b"}, "mark": {"type": "line", "strokeWidth": 0.9}, "encoding": {"detail": {"field": "s", "type": "nominal"}}},
            {"data": {"name": "p2l"}, "mark": {"type": "text"}, "encoding": {"text": {"field": "lab", "type": "nominal"}}}]},
 {"width": 162, "height": 131, "title": {"text": "Abundance Ion 255.20 (254.90 to"},
  "encoding": {"x": {"field": "t", "type": "quantitative", "scale": {"domain": [9.995, 11.59], "nice": false, "zero": false}, "axis": {"title": "Time-->", "values": [10,10.1,10.2,10.3,10.4,10.5,10.6,10.7,10.8,10.9,11,11.1,11.2,11.3,11.4,11.5], "labelExpr": "indexof([10.5,11],datum.value)>=0?format(datum.value,'.2f'):''", "tickSize": {"condition": {"test": "abs(datum.value*2-round(datum.value*2))<0.001", "value": 7}, "value": 4}}},
               "y": {"field": "a", "type": "quantitative", "scale": {"domain": [0, 13700], "nice": false}, "axis": {"values": [0, 5000, 10000], "title": null, "format": "d"}}},
  "layer": [{"data": {"name": "p4t"}, "mark": {"type": "line", "interpolate": "monotone"}},
            {"data": {"name": "p4b"}, "mark": {"type": "line", "strokeWidth": 0.9}, "encoding": {"detail": {"field": "s", "type": "nominal"}}},
            {"data": {"name": "p4l"}, "mark": {"type": "text"}, "encoding": {"text": {"field": "lab", "type": "nominal"}}}]},
 {"width": 162, "height": 131, "title": {"text": "Abundance Ion 350.20 (349.90 to"},
  "encoding": {"x": {"field": "t", "type": "quantitative", "scale": {"domain": [14.68, 16.315], "nice": false, "zero": false}, "axis": {"title": "Time-->", "values": [14.7,14.8,14.9,15,15.1,15.2,15.3,15.4,15.5,15.6,15.7,15.8,15.9,16,16.1,16.2,16.3], "labelExpr": "indexof([15,15.5,16],datum.value)>=0?format(datum.value,'.2f'):''", "tickSize": {"condition": {"test": "abs(datum.value*2-round(datum.value*2))<0.001", "value": 7}, "value": 4}}},
               "y": {"field": "a", "type": "quantitative", "scale": {"domain": [0, 116000], "nice": false}, "axis": {"values": [0, 50000, 100000], "title": null, "format": "d"}}},
  "layer": [{"data": {"name": "p6t"}, "mark": {"type": "line", "interpolate": "monotone"}},
            {"data": {"name": "p6b"}, "mark": {"type": "line", "strokeWidth": 0.9}, "encoding": {"detail": {"field": "s", "type": "nominal"}}},
            {"data": {"name": "p6l"}, "mark": {"type": "text"}, "encoding": {"text": {"field": "lab", "type": "nominal"}}}]},
 {"width": 162, "height": 131, "title": {"text": "Abundance Ion 348.20 (347.90 to"},
  "encoding": {"x": {"field": "t", "type": "quantitative", "scale": {"domain": [14.88, 16.485], "nice": false, "zero": false}, "axis": {"title": "Time-->", "values": [14.9,15,15.1,15.2,15.3,15.4,15.5,15.6,15.7,15.8,15.9,16,16.1,16.2,16.3,16.4], "labelExpr": "indexof([15,15.5,16],datum.value)>=0?format(datum.value,'.2f'):''", "tickSize": {"condition": {"test": "abs(datum.value*2-round(datum.value*2))<0.001", "value": 7}, "value": 4}}},
               "y": {"field": "a", "type": "quantitative", "scale": {"domain": [0, 43000], "nice": false}, "axis": {"values": [0, 20000, 40000], "title": null, "format": "d"}}},
  "layer": [{"data": {"name": "p8t"}, "mark": {"type": "line", "interpolate": "monotone"}},
            {"data": {"name": "p8b"}, "mark": {"type": "line", "strokeWidth": 0.9}, "encoding": {"detail": {"field": "s", "type": "nominal"}}},
            {"data": {"name": "p8l"}, "mark": {"type": "text"}, "encoding": {"text": {"field": "lab", "type": "nominal"}}}]},

 {"width": 162, "height": 35, "data": {"values": [{}]}, "mark": {"type": "text", "text": "", "fontSize": 1, "baseline": "top"}, "encoding": {}, "title": {"text": "Metholazone", "orient": "bottom", "font": "Liberation Mono", "fontSize": 21, "dx": -85, "offset": -13}},
 {"width": 162, "height": 35, "data": {"values": [{}]}, "mark": {"type": "text", "text": "", "fontSize": 1, "baseline": "top"}, "encoding": {}, "title": {"text": "Acide Ethacrynique#@", "orient": "bottom", "font": "Liberation Mono", "fontSize": 21, "dx": -88, "offset": -13}},
 {"width": 162, "height": 35, "data": {"values": [{}]}, "mark": {"type": "text", "text": "", "fontSize": 1, "baseline": "top"}, "encoding": {}, "title": {"text": "Indapamide#", "orient": "bottom", "font": "Liberation Mono", "fontSize": 21, "dx": -41, "offset": -13}},
 {"width": 162, "height": 35, "data": {"values": [{}]}, "mark": {"type": "text", "text": "", "fontSize": 1, "baseline": "top"}, "encoding": {}, "title": {"text": "Piretanide#", "orient": "bottom", "font": "Liberation Mono", "fontSize": 21, "dx": -70, "offset": -13}},

 {"width": 162, "height": 125, "title": {"text": "Abundance Ion 366.20 (365.90 to"},
  "encoding": {"x": {"field": "t", "type": "quantitative", "scale": {"domain": [17.7, 19.265], "nice": false, "zero": false}, "axis": {"title": "Time-->", "values": [17.7,17.8,17.9,18,18.1,18.2,18.3,18.4,18.5,18.6,18.7,18.8,18.9,19,19.1,19.2], "labelExpr": "indexof([18,18.5,19],datum.value)>=0?format(datum.value,'.2f'):''", "tickSize": {"condition": {"test": "abs(datum.value*2-round(datum.value*2))<0.001", "value": 7}, "value": 4}}},
               "y": {"field": "a", "type": "quantitative", "scale": {"domain": [0, 20100], "nice": false}, "axis": {"values": [0, 10000], "title": null, "format": "d"}}},
  "layer": [{"data": {"name": "p9t"}, "mark": {"type": "line", "interpolate": "monotone"}},
            {"data": {"name": "p9b"}, "mark": {"type": "line", "strokeWidth": 0.9}, "encoding": {"detail": {"field": "s", "type": "nominal"}}},
            {"data": {"name": "p9l"}, "mark": {"type": "text"}, "encoding": {"text": {"field": "lab", "type": "nominal"}}}]},
 {"width": 162, "height": 125, "title": {"text": "Abundance Ion 303.20 (302.90 to"},
  "encoding": {"x": {"field": "t", "type": "quantitative", "scale": {"domain": [18.57, 20.2], "nice": false, "zero": false}, "axis": {"title": "Time-->", "values": [18.6,18.7,18.8,18.9,19,19.1,19.2,19.3,19.4,19.5,19.6,19.7,19.8,19.9,20,20.1], "labelExpr": "indexof([19,19.5,20],datum.value)>=0?format(datum.value,'.2f'):''", "tickSize": {"condition": {"test": "abs(datum.value*2-round(datum.value*2))<0.001", "value": 7}, "value": 4}}},
               "y": {"field": "a", "type": "quantitative", "scale": {"domain": [0, 32100], "nice": false}, "axis": {"values": [0, 20000], "title": null, "format": "d"}}},
  "layer": [{"data": {"name": "p11t"}, "mark": {"type": "line", "interpolate": "monotone"}},
            {"data": {"name": "p11b"}, "mark": {"type": "line", "strokeWidth": 0.9}, "encoding": {"detail": {"field": "s", "type": "nominal"}}},
            {"data": {"name": "p11l"}, "mark": {"type": "text"}, "encoding": {"text": {"field": "lab", "type": "nominal"}}}]},
 {"width": 162, "height": 125, "title": {"text": "Abundance Ion 366.20 (365.90 to"},
  "encoding": {"x": {"field": "t", "type": "quantitative", "scale": {"domain": [18.79, 20.42], "nice": false, "zero": false}, "axis": {"title": "Time-->", "values": [18.8,18.9,19,19.1,19.2,19.3,19.4,19.5,19.6,19.7,19.8,19.9,20,20.1,20.2,20.3,20.4], "labelExpr": "indexof([19,19.5,20],datum.value)>=0?format(datum.value,'.2f'):''", "tickSize": {"condition": {"test": "abs(datum.value*2-round(datum.value*2))<0.001", "value": 7}, "value": 4}}},
               "y": {"field": "a", "type": "quantitative", "scale": {"domain": [0, 19800], "nice": false}, "axis": {"values": [0, 10000], "title": null, "format": "d"}}},
  "layer": [{"data": {"name": "p13t"}, "mark": {"type": "line", "interpolate": "monotone"}},
            {"data": {"name": "p13b"}, "mark": {"type": "line", "strokeWidth": 0.9}, "encoding": {"detail": {"field": "s", "type": "nominal"}}},
            {"data": {"name": "p13l"}, "mark": {"type": "text"}, "encoding": {"text": {"field": "lab", "type": "nominal"}}}]},
 {"width": 162, "height": 125, "title": {"text": "Abundance Ion 363.20 (362.90 to"},
  "encoding": {"x": {"field": "t", "type": "quantitative", "scale": {"domain": [19.175, 20.765], "nice": false, "zero": false}, "axis": {"title": "Time-->", "values": [19.2,19.3,19.4,19.5,19.6,19.7,19.8,19.9,20,20.1,20.2,20.3,20.4,20.5,20.6,20.7], "labelExpr": "indexof([19.5,20,20.5],datum.value)>=0?format(datum.value,'.2f'):''", "tickSize": {"condition": {"test": "abs(datum.value*2-round(datum.value*2))<0.001", "value": 7}, "value": 4}}},
               "y": {"field": "a", "type": "quantitative", "scale": {"domain": [0, 59200], "nice": false}, "axis": {"values": [0, 20000, 40000], "title": null, "format": "d"}}},
  "layer": [{"data": {"name": "p15t"}, "mark": {"type": "line", "interpolate": "monotone"}},
            {"data": {"name": "p15b"}, "mark": {"type": "line", "strokeWidth": 0.9}, "encoding": {"detail": {"field": "s", "type": "nominal"}}},
            {"data": {"name": "p15l"}, "mark": {"type": "text"}, "encoding": {"text": {"field": "lab", "type": "nominal"}}}]},

 {"width": 162, "height": 130, "title": {"text": "Abundance Ion 368.20 (367.90 to"},
  "encoding": {"x": {"field": "t", "type": "quantitative", "scale": {"domain": [17.7, 19.265], "nice": false, "zero": false}, "axis": {"title": "Time-->", "values": [17.7,17.8,17.9,18,18.1,18.2,18.3,18.4,18.5,18.6,18.7,18.8,18.9,19,19.1,19.2], "labelExpr": "indexof([18,18.5,19],datum.value)>=0?format(datum.value,'.2f'):''", "tickSize": {"condition": {"test": "abs(datum.value*2-round(datum.value*2))<0.001", "value": 7}, "value": 4}}},
               "y": {"field": "a", "type": "quantitative", "scale": {"domain": [0, 16000], "nice": false}, "axis": {"values": [0, 10000], "title": null, "format": "d"}}},
  "layer": [{"data": {"name": "p10t"}, "mark": {"type": "line", "interpolate": "monotone"}},
            {"data": {"name": "p10b"}, "mark": {"type": "line", "strokeWidth": 0.9}, "encoding": {"detail": {"field": "s", "type": "nominal"}}},
            {"data": {"name": "p10l"}, "mark": {"type": "text"}, "encoding": {"text": {"field": "lab", "type": "nominal"}}}]},
 {"width": 162, "height": 130, "title": {"text": "Abundance Ion 305.20 (304.90 to"},
  "encoding": {"x": {"field": "t", "type": "quantitative", "scale": {"domain": [18.57, 20.2], "nice": false, "zero": false}, "axis": {"title": "Time-->", "values": [18.6,18.7,18.8,18.9,19,19.1,19.2,19.3,19.4,19.5,19.6,19.7,19.8,19.9,20,20.1], "labelExpr": "indexof([19,19.5,20],datum.value)>=0?format(datum.value,'.2f'):''", "tickSize": {"condition": {"test": "abs(datum.value*2-round(datum.value*2))<0.001", "value": 7}, "value": 4}}},
               "y": {"field": "a", "type": "quantitative", "scale": {"domain": [0, 51000], "nice": false}, "axis": {"values": [0, 20000, 40000], "title": null, "format": "d"}}},
  "layer": [{"data": {"name": "p12t"}, "mark": {"type": "line", "interpolate": "monotone"}},
            {"data": {"name": "p12b"}, "mark": {"type": "line", "strokeWidth": 0.9}, "encoding": {"detail": {"field": "s", "type": "nominal"}}},
            {"data": {"name": "p12l"}, "mark": {"type": "text"}, "encoding": {"text": {"field": "lab", "type": "nominal"}}}]},
 {"width": 162, "height": 130, "title": {"text": "Abundance Ion 132.10 (131.80 to"},
  "encoding": {"x": {"field": "t", "type": "quantitative", "scale": {"domain": [18.79, 20.42], "nice": false, "zero": false}, "axis": {"title": "Time-->", "values": [18.8,18.9,19,19.1,19.2,19.3,19.4,19.5,19.6,19.7,19.8,19.9,20,20.1,20.2,20.3,20.4], "labelExpr": "indexof([19,19.5,20],datum.value)>=0?format(datum.value,'.2f'):''", "tickSize": {"condition": {"test": "abs(datum.value*2-round(datum.value*2))<0.001", "value": 7}, "value": 4}}},
               "y": {"field": "a", "type": "quantitative", "scale": {"domain": [0, 9950], "nice": false}, "axis": {"values": [0, 5000], "title": null, "format": "d"}}},
  "layer": [{"data": {"name": "p14t"}, "mark": {"type": "line", "interpolate": "monotone"}},
            {"data": {"name": "p14b"}, "mark": {"type": "line", "strokeWidth": 0.9}, "encoding": {"detail": {"field": "s", "type": "nominal"}}},
            {"data": {"name": "p14l"}, "mark": {"type": "text"}, "encoding": {"text": {"field": "lab", "type": "nominal"}}}]},
 {"width": 162, "height": 130, "title": {"text": "Abundance Ion 364.20 (363.90 to"},
  "encoding": {"x": {"field": "t", "type": "quantitative", "scale": {"domain": [19.175, 20.765], "nice": false, "zero": false}, "axis": {"title": "Time-->", "values": [19.2,19.3,19.4,19.5,19.6,19.7,19.8,19.9,20,20.1,20.2,20.3,20.4,20.5,20.6,20.7], "labelExpr": "indexof([19.5,20,20.5],datum.value)>=0?format(datum.value,'.2f'):''", "tickSize": {"condition": {"test": "abs(datum.value*2-round(datum.value*2))<0.001", "value": 7}, "value": 4}}},
               "y": {"field": "a", "type": "quantitative", "scale": {"domain": [0, 18300], "nice": false}, "axis": {"values": [0, 10000], "title": null, "format": "d"}}},
  "layer": [{"data": {"name": "p16t"}, "mark": {"type": "line", "interpolate": "monotone"}},
            {"data": {"name": "p16b"}, "mark": {"type": "line", "strokeWidth": 0.9}, "encoding": {"detail": {"field": "s", "type": "nominal"}}},
            {"data": {"name": "p16l"}, "mark": {"type": "text"}, "encoding": {"text": {"field": "lab", "type": "nominal"}}}]},

 {"width": 162, "height": 35, "data": {"values": [{}]}, "mark": {"type": "text", "text": "", "fontSize": 1, "baseline": "top"}, "encoding": {}, "title": {"text": "Spironolactone-Canrénone#", "orient": "bottom", "font": "Liberation Mono", "fontSize": 21, "dx": -81, "offset": -14}},
 {"width": 162, "height": 35, "data": {"values": [{}]}, "mark": {"type": "text", "text": "", "fontSize": 1, "baseline": "top"}, "encoding": {}, "title": {"text": "Bumétanide#", "orient": "bottom", "font": "Liberation Mono", "fontSize": 21, "dx": 37, "offset": -14}},
 {"width": 162, "height": 35, "data": {"values": [{}]}, "mark": {"type": "text", "text": "", "fontSize": 1, "baseline": "top"}, "encoding": {}, "title": {"text": "Bendroflumethiazide#", "orient": "bottom", "font": "Liberation Mono", "fontSize": 21, "dx": -53, "offset": -14}},
 {"width": 162, "height": 35, "data": {"values": [{}]}, "mark": {"type": "text", "text": "", "fontSize": 1, "baseline": "top"}, "encoding": {}, "title": {"text": "Xipamide#", "orient": "bottom", "font": "Liberation Mono", "fontSize": 21, "dx": 6, "offset": -14}},

 {"width": 162, "height": 122, "title": {"text": "Abundance Ion 341.20 (340.90 to"},
  "encoding": {"x": {"field": "t", "type": "quantitative", "scale": {"domain": [21.57, 23.99], "nice": false, "zero": false}, "axis": {"title": "Time-->", "values": [21.6,21.8,22,22.2,22.4,22.6,22.8,23,23.2,23.4,23.6,23.8], "labelExpr": "indexof([22,23],datum.value)>=0?format(datum.value,'.2f'):''", "tickSize": {"condition": {"test": "abs(datum.value-round(datum.value))<0.001", "value": 7}, "value": 4}}},
               "y": {"field": "a", "type": "quantitative", "scale": {"domain": [0, 47500], "nice": false}, "axis": {"values": [0, 20000, 40000], "title": null, "format": "d"}}},
  "layer": [{"data": {"name": "p17t"}, "mark": {"type": "line", "interpolate": "monotone"}},
            {"data": {"name": "p17b"}, "mark": {"type": "line", "strokeWidth": 0.9}, "encoding": {"detail": {"field": "s", "type": "nominal"}}},
            {"data": {"name": "p17l"}, "mark": {"type": "text"}, "encoding": {"text": {"field": "lab", "type": "nominal"}}}]},
 {"width": 162, "height": 122, "title": {"text": "Abundance Ion 365.20 (364.90 to"},
  "encoding": {"x": {"field": "t", "type": "quantitative", "scale": {"domain": [20.0, 21.62], "nice": false, "zero": false}, "axis": {"title": "Time-->", "values": [20,20.1,20.2,20.3,20.4,20.5,20.6,20.7,20.8,20.9,21,21.1,21.2,21.3,21.4,21.5,21.6], "labelExpr": "indexof([20,20.5,21],datum.value)>=0?format(datum.value,'.2f'):''", "tickSize": {"condition": {"test": "abs(datum.value*2-round(datum.value*2))<0.001", "value": 7}, "value": 4}}},
               "y": {"field": "a", "type": "quantitative", "scale": {"domain": [0, 44200], "nice": false}, "axis": {"values": [0, 20000, 40000], "title": null, "format": "d"}}},
  "layer": [{"data": {"name": "p19t"}, "mark": {"type": "line", "interpolate": "monotone"}},
            {"data": {"name": "p19b"}, "mark": {"type": "line", "strokeWidth": 0.9}, "encoding": {"detail": {"field": "s", "type": "nominal"}}},
            {"data": {"name": "p19l"}, "mark": {"type": "text"}, "encoding": {"text": {"field": "lab", "type": "nominal"}}}]},
 {"width": 162, "height": 122, "title": {"text": "Abundance Ion 422.30 (422.00 to"},
  "encoding": {"x": {"field": "t", "type": "quantitative", "scale": {"domain": [20.0, 21.845], "nice": false, "zero": false}, "axis": {"title": "Time-->", "values": [20,20.1,20.2,20.3,20.4,20.5,20.6,20.7,20.8,20.9,21,21.1,21.2,21.3,21.4,21.5,21.6,21.7,21.8], "labelExpr": "indexof([20,21],datum.value)>=0?format(datum.value,'.2f'):''", "tickSize": {"condition": {"test": "abs(datum.value*2-round(datum.value*2))<0.001", "value": 7}, "value": 4}}},
               "y": {"field": "a", "type": "quantitative", "scale": {"domain": [0, 13450], "nice": false}, "axis": {"values": [0, 5000, 10000], "title": null, "format": "d"}}},
  "layer": [{"data": {"name": "p21t"}, "mark": {"type": "line", "interpolate": "monotone"}},
            {"data": {"name": "p21b"}, "mark": {"type": "line", "strokeWidth": 0.9}, "encoding": {"detail": {"field": "s", "type": "nominal"}}},
            {"data": {"name": "p21l"}, "mark": {"type": "text"}, "encoding": {"text": {"field": "lab", "type": "nominal"}}}]},
 {"width": 162, "height": 122, "title": {"text": "Abundance Ion 355.20 (354.90 to"},
  "encoding": {"x": {"field": "t", "type": "quantitative", "scale": {"domain": [20.0, 21.58], "nice": false, "zero": false}, "axis": {"title": "Time-->", "values": [20,20.1,20.2,20.3,20.4,20.5,20.6,20.7,20.8,20.9,21,21.1,21.2,21.3,21.4,21.5], "labelExpr": "indexof([20,20.5,21],datum.value)>=0?format(datum.value,'.2f'):''", "tickSize": {"condition": {"test": "abs(datum.value*2-round(datum.value*2))<0.001", "value": 7}, "value": 4}}},
               "y": {"field": "a", "type": "quantitative", "scale": {"domain": [0, 54100], "nice": false}, "axis": {"values": [0, 20000, 40000], "title": null, "format": "d"}}},
  "layer": [{"data": {"name": "p22t"}, "mark": {"type": "line", "interpolate": "monotone"}}]},

 {"width": 162, "height": 124, "title": {"text": "Abundance Ion 323.20 (322.90 to"},
  "encoding": {"x": {"field": "t", "type": "quantitative", "scale": {"domain": [21.57, 23.99], "nice": false, "zero": false}, "axis": {"title": "Time-->", "values": [21.6,21.8,22,22.2,22.4,22.6,22.8,23,23.2,23.4,23.6,23.8], "labelExpr": "indexof([22,23],datum.value)>=0?format(datum.value,'.2f'):''", "tickSize": {"condition": {"test": "abs(datum.value-round(datum.value))<0.001", "value": 7}, "value": 4}}},
               "y": {"field": "a", "type": "quantitative", "scale": {"domain": [0, 20600], "nice": false}, "axis": {"values": [0, 10000], "title": null, "format": "d"}}},
  "layer": [{"data": {"name": "p18t"}, "mark": {"type": "line", "interpolate": "monotone"}},
            {"data": {"name": "p18b"}, "mark": {"type": "line", "strokeWidth": 0.9}, "encoding": {"detail": {"field": "s", "type": "nominal"}}},
            {"data": {"name": "p18l"}, "mark": {"type": "text"}, "encoding": {"text": {"field": "lab", "type": "nominal"}}}]},
 {"width": 162, "height": 124, "title": {"text": "Abundance Ion 366.20 (365.90 to"},
  "encoding": {"x": {"field": "t", "type": "quantitative", "scale": {"domain": [20.0, 21.62], "nice": false, "zero": false}, "axis": {"title": "Time-->", "values": [20,20.1,20.2,20.3,20.4,20.5,20.6,20.7,20.8,20.9,21,21.1,21.2,21.3,21.4,21.5,21.6], "labelExpr": "indexof([20,20.5,21],datum.value)>=0?format(datum.value,'.2f'):''", "tickSize": {"condition": {"test": "abs(datum.value*2-round(datum.value*2))<0.001", "value": 7}, "value": 4}}},
               "y": {"field": "a", "type": "quantitative", "scale": {"domain": [0, 278500], "nice": false}, "axis": {"values": [0, 100000, 200000], "title": null, "format": "d"}}},
  "layer": [{"data": {"name": "p20t"}, "mark": {"type": "line", "interpolate": "monotone"}},
            {"data": {"name": "p20b"}, "mark": {"type": "line", "strokeWidth": 0.9}, "encoding": {"detail": {"field": "s", "type": "nominal"}}},
            {"data": {"name": "p20l"}, "mark": {"type": "text"}, "encoding": {"text": {"field": "lab", "type": "nominal"}}}]}
]
}
